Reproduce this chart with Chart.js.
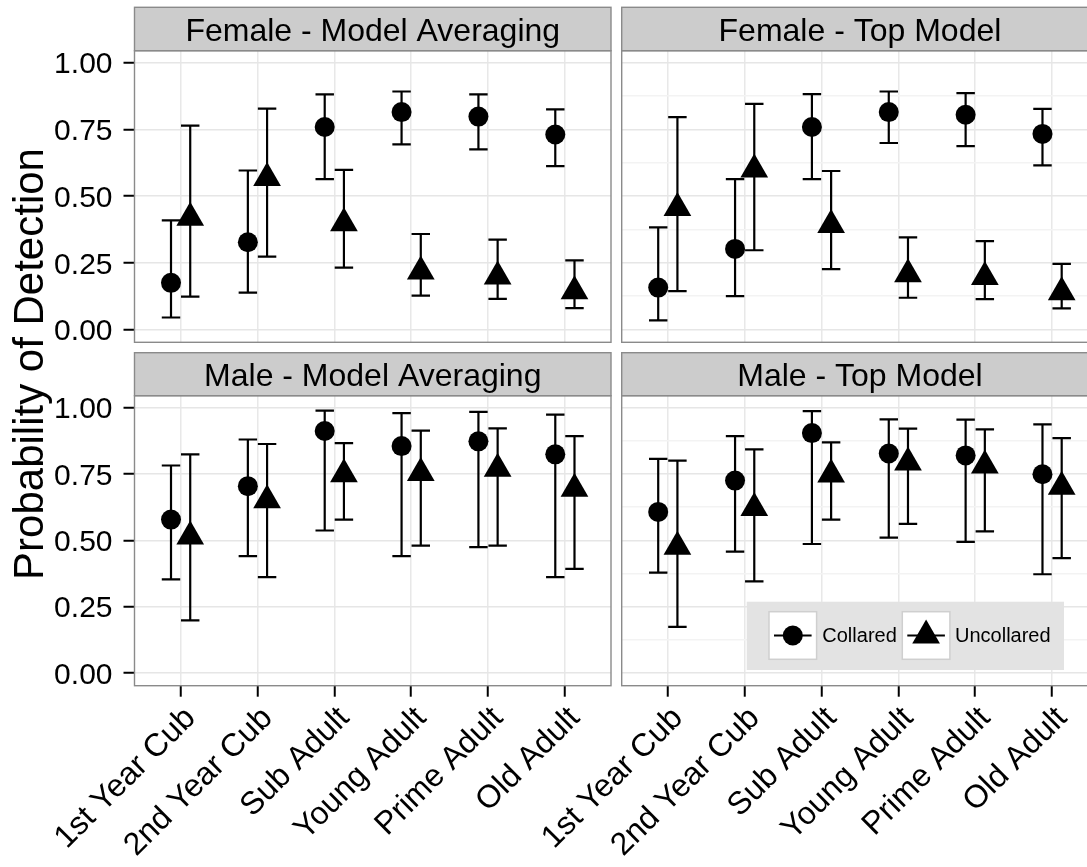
<!DOCTYPE html>
<html>
<head>
<meta charset="utf-8">
<script src="https://cdn.jsdelivr.net/npm/chart.js@4/dist/chart.umd.min.js"></script>
<style>
  html, body { margin: 0; padding: 0; background: #ffffff; }
  body { width: 1087px; height: 867px; overflow: hidden; position: relative; }
  canvas { position: absolute; left: 0; top: 0; }
</style>
</head>
<body>
<canvas id="femaleAvg" width="1130" height="867"></canvas>
<canvas id="femaleTop" width="1130" height="867"></canvas>
<canvas id="maleAvg" width="1130" height="867"></canvas>
<canvas id="maleTop" width="1130" height="867"></canvas>
<script>
// Age classes on the x axis
const ageClasses = ['1st Year Cub', '2nd Year Cub', 'Sub Adult', 'Young Adult', 'Prime Adult', 'Old Adult'];
const seriesNames = ['Collared', 'Uncollared'];
const yMajorTicks = [0, 0.25, 0.5, 0.75, 1];
const yAxisTitle = 'Probability of Detection';

// Female - Model Averaging
const femaleAvgCollared      = [0.175, 0.327, 0.759, 0.815, 0.798, 0.731];
const femaleAvgCollaredLo    = [0.045, 0.138, 0.564, 0.694, 0.675, 0.612];
const femaleAvgCollaredHi    = [0.409, 0.596, 0.881, 0.892, 0.881, 0.825];
const femaleAvgUncollared    = [0.419, 0.568, 0.398, 0.217, 0.199, 0.143];
const femaleAvgUncollaredLo  = [0.123, 0.273, 0.232, 0.127, 0.115, 0.080];
const femaleAvgUncollaredHi  = [0.764, 0.828, 0.598, 0.358, 0.337, 0.259];

// Female - Top Model
const femaleTopCollared      = [0.157, 0.302, 0.759, 0.815, 0.805, 0.733];
const femaleTopCollaredLo    = [0.034, 0.125, 0.564, 0.699, 0.687, 0.615];
const femaleTopCollaredHi    = [0.383, 0.564, 0.882, 0.892, 0.886, 0.827];
const femaleTopUncollared    = [0.455, 0.600, 0.392, 0.207, 0.197, 0.140];
const femaleTopUncollaredLo  = [0.144, 0.297, 0.226, 0.119, 0.114, 0.079];
const femaleTopUncollaredHi  = [0.796, 0.846, 0.594, 0.345, 0.331, 0.246];

// Male - Model Averaging
const maleAvgCollared        = [0.578, 0.704, 0.912, 0.855, 0.873, 0.824];
const maleAvgCollaredLo      = [0.353, 0.440, 0.537, 0.440, 0.474, 0.361];
const maleAvgCollaredHi      = [0.782, 0.880, 0.989, 0.979, 0.984, 0.974];
const maleAvgUncollared      = [0.514, 0.651, 0.749, 0.754, 0.770, 0.694];
const maleAvgUncollaredLo    = [0.198, 0.361, 0.578, 0.480, 0.480, 0.392];
const maleAvgUncollaredHi    = [0.824, 0.863, 0.866, 0.913, 0.922, 0.893];

// Male - Top Model
const maleTopCollared        = [0.607, 0.725, 0.904, 0.827, 0.820, 0.749];
const maleTopCollaredLo      = [0.378, 0.457, 0.486, 0.510, 0.494, 0.372];
const maleTopCollaredHi      = [0.807, 0.893, 0.987, 0.956, 0.955, 0.937];
const maleTopUncollared      = [0.476, 0.622, 0.748, 0.793, 0.782, 0.702];
const maleTopUncollaredLo    = [0.174, 0.345, 0.578, 0.562, 0.534, 0.433];
const maleTopUncollaredHi    = [0.800, 0.843, 0.869, 0.921, 0.918, 0.885];

// ---- layout / style ----
const FONT = '"Liberation Sans", Arial, Helvetica, sans-serif';
const CANVAS_W = 1130, CANVAS_H = 867;
const COLS = [{ left: 134.5, right: 611 }, { left: 621.7, right: 1098.2 }];
const ROWS = [{ stripTop: 7.3, top: 50.7, bottom: 342.3 }, { stripTop: 352.7, top: 395.7, bottom: 685.7 }];
const Y_AXIS_W = 80;
const DODGE = 0.125;      // half of the dodge width, in category units
const CAP = 0.12;         // half width of the error bar caps
const X_MIN = 0.4, X_MAX = 6.6;
const Y_MIN = -0.048, Y_MAX = 1.045;

const isMajor = v => Math.abs(v * 4 - Math.round(v * 4)) < 1e-9;
const yGridValues = [];
yMajorTicks.forEach((v, i) => {
  yGridValues.push(v);
  if (i < yMajorTicks.length - 1) yGridValues.push((v + yMajorTicks[i + 1]) / 2);
});

function whiskers(lo, hi, shift) {
  const pts = [];
  lo.forEach((l, i) => {
    const x = i + 1 + shift;
    const h = hi[i];
    pts.push({ x: x, y: l }, { x: x, y: h }, { x: x, y: null });
    pts.push({ x: x - CAP, y: h }, { x: x + CAP, y: h }, { x: x, y: null });
    pts.push({ x: x - CAP, y: l }, { x: x + CAP, y: l }, { x: x, y: null });
  });
  return pts;
}

// Grey facet strip and panel frame
const facetFrame = {
  id: 'facetFrame',
  afterDraw(chart, args, opts) {
    const { ctx, chartArea: a } = chart;
    ctx.save();
    ctx.fillStyle = '#cccccc';
    ctx.fillRect(a.left, opts.stripTop, a.right - a.left, a.top - opts.stripTop);
    ctx.strokeStyle = '#8a8a8a';
    ctx.lineWidth = 1.4;
    ctx.strokeRect(a.left, opts.stripTop, a.right - a.left, a.top - opts.stripTop);
    ctx.strokeRect(a.left, a.top, a.right - a.left, a.bottom - a.top);
    ctx.fillStyle = '#000000';
    ctx.font = '32px ' + FONT;
    ctx.textAlign = 'center';
    ctx.textBaseline = 'alphabetic';
    ctx.fillText(opts.title, (a.left + a.right) / 2, opts.stripTop + 33.3);
    ctx.restore();
  }
};

// Shared y axis title
const yTitlePlugin = {
  id: 'yTitle',
  afterDraw(chart, args, opts) {
    if (!opts.text) return;
    const ctx = chart.ctx;
    ctx.save();
    ctx.translate(43, 364);
    ctx.rotate(-Math.PI / 2);
    ctx.fillStyle = '#000000';
    ctx.font = '42px ' + FONT;
    ctx.textAlign = 'center';
    ctx.textBaseline = 'alphabetic';
    ctx.fillText(opts.text, 0, 0);
    ctx.restore();
  }
};

function drawMarker(ctx, style, x, y, r) {
  ctx.beginPath();
  if (style === 'circle') {
    ctx.arc(x, y, r, 0, Math.PI * 2);
  } else {
    for (let k = 0; k < 3; k++) {
      const ang = k * 2 * Math.PI / 3;
      const px = x + Math.sin(ang) * r, py = y - Math.cos(ang) * r;
      if (k === 0) ctx.moveTo(px, py); else ctx.lineTo(px, py);
    }
    ctx.closePath();
  }
  ctx.fill();
}

// Inset legend in the last panel
const insetLegend = {
  id: 'insetLegend',
  afterDraw(chart, args, opts) {
    if (!opts.show) return;
    const ctx = chart.ctx;
    ctx.save();
    ctx.fillStyle = '#e3e3e3';
    ctx.fillRect(746.7, 601.7, 317.3, 68.3);
    const keys = [
      { x: 769, style: 'circle', r: 10, label: seriesNames[0], tx: 822.3 },
      { x: 902.3, style: 'triangle', r: 16, label: seriesNames[1], tx: 955 }
    ];
    const ky = 611.7, ks = 47.6, cy = ky + ks / 2;
    keys.forEach(k => {
      ctx.fillStyle = '#ffffff';
      ctx.fillRect(k.x, ky, ks, ks);
      ctx.strokeStyle = '#cfcfcf';
      ctx.lineWidth = 1.5;
      ctx.strokeRect(k.x, ky, ks, ks);
      ctx.strokeStyle = '#000000';
      ctx.lineWidth = 2;
      ctx.beginPath();
      ctx.moveTo(k.x + 5, cy);
      ctx.lineTo(k.x + ks - 5, cy);
      ctx.stroke();
      ctx.fillStyle = '#000000';
      drawMarker(ctx, k.style, k.x + ks / 2, cy, k.r);
      ctx.font = '20px ' + FONT;
      ctx.textAlign = 'left';
      ctx.textBaseline = 'middle';
      ctx.fillText(k.label, k.tx, cy + 1);
    });
    ctx.restore();
  }
};

function makePanel(id, col, row, title, collared, uncollared, extra) {
  const c = COLS[col], r = ROWS[row];
  const showY = col === 0, showX = row === 1;
  return new Chart(document.getElementById(id), {
    data: {
      datasets: [
        {
          type: 'scatter', label: seriesNames[0], order: 0,
          data: collared.est.map((v, i) => ({ x: i + 1 - DODGE, y: v })),
          pointStyle: 'circle', pointRadius: 10, backgroundColor: '#000000', borderWidth: 0
        },
        {
          type: 'scatter', label: seriesNames[1], order: 0,
          data: uncollared.est.map((v, i) => ({ x: i + 1 + DODGE, y: v })),
          pointStyle: 'triangle', pointRadius: 16, backgroundColor: '#000000', borderWidth: 0
        },
        {
          type: 'line', label: seriesNames[0] + ' interval', order: 1,
          data: whiskers(collared.lo, collared.hi, -DODGE),
          borderColor: '#000000', borderWidth: 2.2, pointRadius: 0, spanGaps: false, tension: 0
        },
        {
          type: 'line', label: seriesNames[1] + ' interval', order: 1,
          data: whiskers(uncollared.lo, uncollared.hi, DODGE),
          borderColor: '#000000', borderWidth: 2.2, pointRadius: 0, spanGaps: false, tension: 0
        }
      ]
    },
    options: {
      responsive: false,
      animation: false,
      events: [],
      layout: {
        padding: {
          left: c.left - (showY ? Y_AXIS_W : 0),
          right: CANVAS_W - c.right,
          top: r.top,
          bottom: showX ? 0 : CANVAS_H - r.bottom
        }
      },
      scales: {
        x: {
          type: 'linear', min: X_MIN, max: X_MAX,
          afterBuildTicks: s => { s.ticks = ageClasses.map((_, i) => ({ value: i + 1 })); },
          afterFit: s => { s.height = showX ? CANVAS_H - r.bottom : 0; },
          border: { display: false },
          grid: { color: '#e8e8e8', lineWidth: 1.5, drawTicks: showX, tickLength: 11, tickColor: '#000000', tickWidth: 2 },
          ticks: {
            display: showX, autoSkip: false, minRotation: 45, maxRotation: 45, padding: 3, labelOffset: 10,
            color: '#000000', font: { family: FONT, size: 32 },
            callback: v => ageClasses[Math.round(v) - 1]
          }
        },
        y: {
          type: 'linear', min: Y_MIN, max: Y_MAX,
          afterBuildTicks: s => { s.ticks = yGridValues.map(v => ({ value: v })); },
          afterFit: s => { s.width = showY ? Y_AXIS_W : 0; },
          border: { display: false },
          grid: {
            color: ctx => isMajor(ctx.tick.value) ? '#e6e6e6' : '#f3f3f3',
            lineWidth: 1.5, drawTicks: showY, tickLength: 11, tickWidth: 2,
            tickColor: ctx => isMajor(ctx.tick.value) ? '#000000' : 'rgba(0,0,0,0)'
          },
          ticks: {
            display: showY, padding: 11, labelOffset: 2.5, color: '#000000', font: { family: FONT, size: 30 },
            callback: v => isMajor(v) ? v.toFixed(2) : ''
          }
        }
      },
      plugins: {
        legend: { display: false },
        tooltip: { enabled: false },
        facetFrame: { title: title, stripTop: r.stripTop },
        yTitle: { text: extra.yTitle || '' },
        insetLegend: { show: !!extra.legend }
      }
    },
    plugins: [facetFrame, yTitlePlugin, insetLegend]
  });
}

makePanel('femaleAvg', 0, 0, 'Female - Model Averaging',
  { est: femaleAvgCollared, lo: femaleAvgCollaredLo, hi: femaleAvgCollaredHi },
  { est: femaleAvgUncollared, lo: femaleAvgUncollaredLo, hi: femaleAvgUncollaredHi },
  { yTitle: yAxisTitle });
makePanel('femaleTop', 1, 0, 'Female - Top Model',
  { est: femaleTopCollared, lo: femaleTopCollaredLo, hi: femaleTopCollaredHi },
  { est: femaleTopUncollared, lo: femaleTopUncollaredLo, hi: femaleTopUncollaredHi },
  {});
makePanel('maleAvg', 0, 1, 'Male - Model Averaging',
  { est: maleAvgCollared, lo: maleAvgCollaredLo, hi: maleAvgCollaredHi },
  { est: maleAvgUncollared, lo: maleAvgUncollaredLo, hi: maleAvgUncollaredHi },
  {});
makePanel('maleTop', 1, 1, 'Male - Top Model',
  { est: maleTopCollared, lo: maleTopCollaredLo, hi: maleTopCollaredHi },
  { est: maleTopUncollared, lo: maleTopUncollaredLo, hi: maleTopUncollaredHi },
  { legend: true });
</script>
</body>
</html>
